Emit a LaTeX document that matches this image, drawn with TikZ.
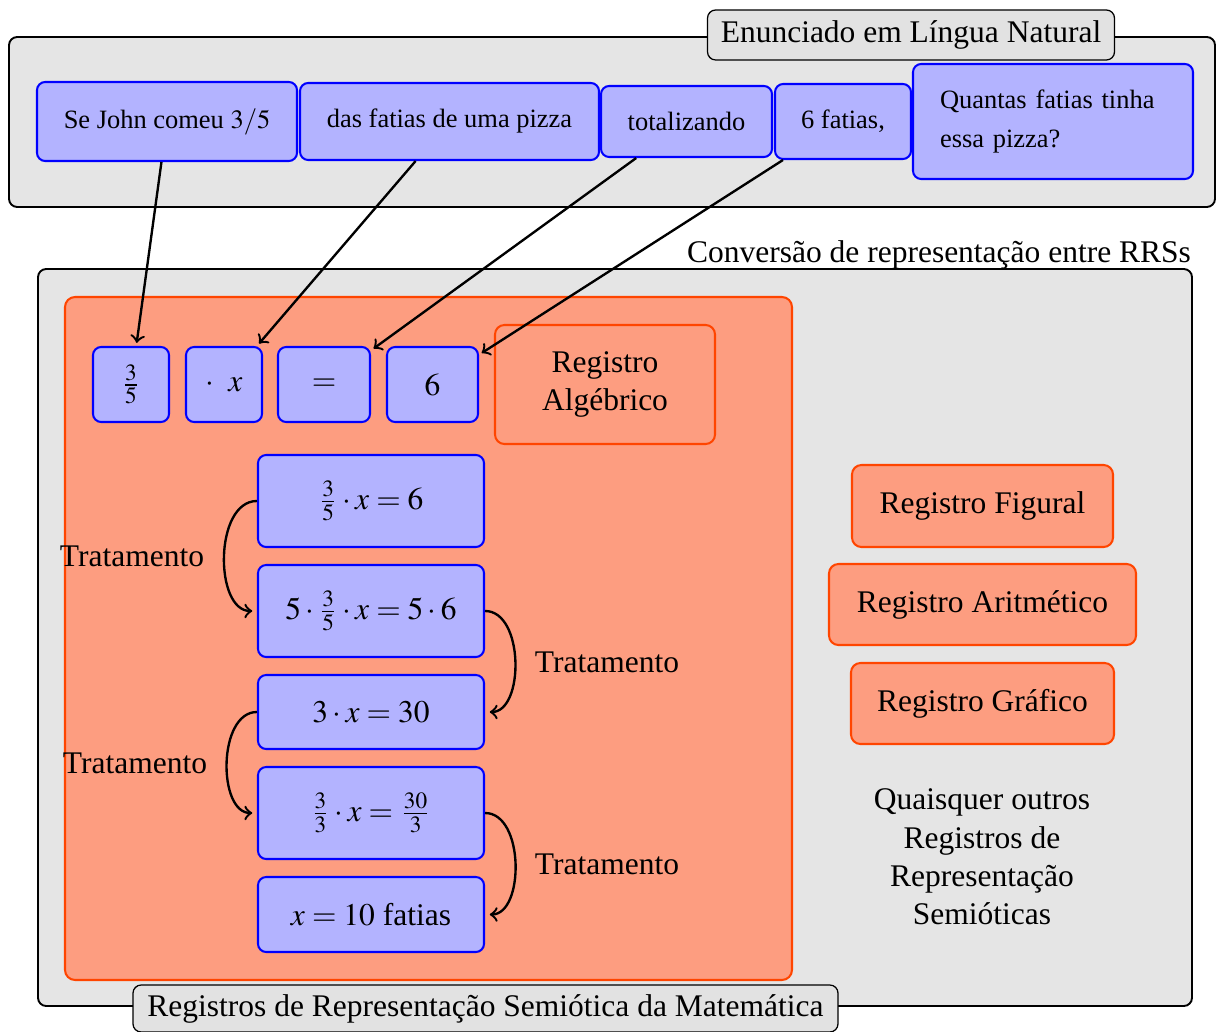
\documentclass[tikz,border=0pt]{standalone}
\usepackage{mathptmx}
\usepackage[no-math]{fontspec}
\setmainfont{Liberation Serif}

\newlength\pxu
\setlength\pxu{0.3175pt}

\definecolor{boxblue}{RGB}{179,179,255}
\definecolor{regfill}{RGB}{253,157,128}
\definecolor{regline}{RGB}{255,69,0}
\definecolor{panelgray}{RGB}{229,229,229}
\definecolor{taggray}{RGB}{226,226,226}

\tikzset{
  panel/.style={draw=black, line width=0.6pt, fill=panelgray, rounded corners=2.6pt, inner sep=0pt},
  tag/.style={draw=black, line width=0.4pt, fill=taggray, rounded corners=2.6pt, inner sep=0pt},
  wordbox/.style={draw=blue, fill=boxblue, line width=0.65pt, rounded corners=2.6pt, inner sep=0pt,
    font=\fontsize{8.4pt}{12.4pt}\selectfont},
  mathbox/.style={draw=blue, fill=boxblue, line width=0.65pt, rounded corners=2.6pt, inner sep=0pt},
  regbox/.style={draw=regline, fill=regfill, line width=0.65pt, rounded corners=3pt, inner sep=0pt},
  size/.style 2 args={minimum width=#1\pxu, minimum height=#2\pxu},
  conv/.style={->, line width=0.75pt, shorten >=1pt},
  treat/.style={->, line width=0.75pt, shorten >=1.5pt},
}

\begin{document}
\begin{tikzpicture}[x=0.3175pt, y=-0.3175pt]
\useasboundingbox (0,0) rectangle (1217,1032);

% --- statement in natural language ---
\node[panel, size={1206}{170}] (toppanel) at (612,122) {};
\node[tag, size={407}{50}] (toptag) at (911,35) {Enunciado em Língua Natural};

\node[wordbox, size={260}{79}] (s1) at (167,121.5) {Se John comeu $3/5$};
\node[wordbox, size={299}{77}] (s2) at (449.5,121.5) {das fatias de uma pizza};
\node[wordbox, size={171}{71}] (s3) at (686.5,121.5) {totalizando};
\node[wordbox, size={136}{75}] (s4) at (843,121.5) {6 fatias,};
\node[wordbox, size={280}{115}, text width=226\pxu, align=left] (s5) at (1053,121.5)
  {Quantas fatias tinha\\essa pizza?};

% --- semiotic registers of mathematics ---
\node[panel, size={1154}{737}] (botpanel) at (615,637.5) {};
\node (convlabel) at (939,255) {Conversão de representação entre RRSs};

\node[regbox, rounded corners=3.2pt, size={727}{683}] (algpanel) at (428.5,638.5) {};

\node[mathbox, size={76}{75}] (f1) at (131,384.5) {$\frac{3}{5}$};
\node[mathbox, size={76}{75}] (f2) at (224,384.5) {$\cdot\;\;x$};
\node[mathbox, size={92}{75}] (f3) at (324,384.5) {$=$};
\node[mathbox, size={91}{75}] (f4) at (432.5,384.5) {$6$};
\node[regbox, size={220}{119}, align=center] (algname) at (605,384.5) {Registro\\Algébrico};

\node[mathbox, size={226}{92}] (e1) at (371,501) {$\frac{3}{5}\cdot x=6$};
\node[mathbox, size={226}{92}] (e2) at (371,611) {$5\cdot\frac{3}{5}\cdot x=5\cdot 6$};
\node[mathbox, size={226}{74}] (e3) at (371,712) {$3\cdot x=30$};
\node[mathbox, size={226}{92}] (e4) at (371,813) {$\frac{3}{3}\cdot x=\frac{30}{3}$};
\node[mathbox, size={226}{75}] (e5) at (371,914.5) {$x=10$ fatias};

\node (t1) at (132,556) {Tratamento};
\node (t2) at (607,662) {Tratamento};
\node (t3) at (135,763) {Tratamento};
\node (t4) at (607,864) {Tratamento};

\node[regbox, size={261}{82}] (rfig) at (982.5,506) {Registro Figural};
\node[regbox, size={307}{81}] (rari) at (982.5,604.5) {Registro Aritmético};
\node[regbox, size={263}{81}] (rgra) at (982.5,703.5) {Registro Gráfico};
\node[align=center, font=\fontsize{10pt}{12.2pt}\selectfont] (others) at (982,857)
  {Quaisquer outros\\Registros de\\Representação\\Semióticas};

\node[tag, size={705}{47}] (bottag) at (485.5,1008.5)
  {Registros de Representação Semiótica da Matemática};

% --- conversions between registers ---
\draw[conv] (s1) -- (f1);
\draw[conv] (s2) -- (f2);
\draw[conv] (s3) -- (f3);
\draw[conv] (s4) -- (f4);

% --- treatments within the algebraic register ---
\draw[treat] (e1.west) to[out=180, in=180] (e2.west);
\draw[treat] (e2.east) to[out=0, in=0] (e3.east);
\draw[treat] (e3.west) to[out=180, in=180] (e4.west);
\draw[treat] (e4.east) to[out=0, in=0] (e5.east);
\end{tikzpicture}
\end{document}
